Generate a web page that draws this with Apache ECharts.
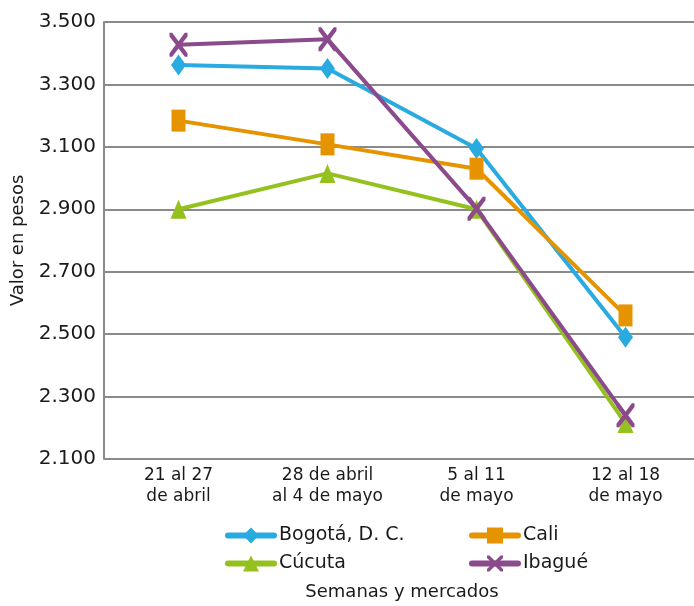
<!DOCTYPE html>
<html><head><meta charset="utf-8">
<script src="https://cdn.jsdelivr.net/npm/echarts@6/dist/echarts.min.js"></script>
<style>html,body{margin:0;padding:0;background:#fff}#c{width:694px;height:606px}</style>
</head><body><div id="c"></div>
<script>
const categories = ["21 al 27\nde abril", "28 de abril\nal 4 de mayo", "5 al 11\nde mayo", "12 al 18\nde mayo"];
const bogota = [3362, 3351, 3095, 2490];
const cali = [3184, 3108, 3030, 2560];
const cucuta = [2900, 3015, 2900, 2214];
const ibague = [3427, 3445, 2902, 2240];
const yTicks = [2100, 2300, 2500, 2700, 2900, 3100, 3300, 3500];

const FONT = '"DejaVu Sans", sans-serif';
const crossPath = 'path://M0,0 L3,0 L10,7 L17,0 L20,0 L20,3 L13,10 L20,17 L20,20 L17,20 L10,13 L3,20 L0,20 L0,17 L7,10 L0,3 Z';
function ser(name, data, color, symbol, size) {
  return {name, type: 'line', data, symbol, symbolSize: size,
    lineStyle: {color, width: 4}, itemStyle: {color}, z: 3};
}
const legendCommon = {orient: 'vertical', top: 521, itemWidth: 46, itemHeight: 20, itemGap: 9,
  lineStyle: {width: 6, cap: 'round'},
  textStyle: {fontSize: 19, color: '#1a1a1a', fontFamily: FONT}};
const chart = echarts.init(document.getElementById('c'), null, {renderer: 'canvas'});
chart.setOption({
  animation: false,
  textStyle: {fontFamily: FONT},
  grid: {left: 104, top: 22, width: 596, bottom: 147, outerBoundsMode: 'none', containLabel: false},
  xAxis: {
    type: 'category', data: categories, boundaryGap: true,
    axisLine: {show: false}, axisTick: {show: false},
    axisLabel: {fontSize: 17, color: '#1a1a1a', lineHeight: 21, margin: 6, fontFamily: FONT},
    name: 'Semanas y mercados', nameLocation: 'middle', nameGap: 124,
    nameTextStyle: {fontSize: 18, color: '#1a1a1a', fontFamily: FONT}
  },
  yAxis: {
    type: 'value', min: 2100, max: 3500, interval: 200,
    axisLine: {show: true, lineStyle: {color: '#8a8a8a', width: 2}},
    axisTick: {show: false},
    splitLine: {show: true, lineStyle: {color: '#8a8a8a', width: 2}},
    axisLabel: {fontSize: 20, color: '#1a1a1a', margin: 8, fontFamily: FONT,
      formatter: v => yTicks.includes(v) ? (v/1000).toFixed(3) : ''},
    name: 'Valor en pesos', nameLocation: 'middle', nameGap: 77, nameRotate: 90,
    nameTextStyle: {fontSize: 18, color: '#1a1a1a', fontFamily: FONT}
  },
  legend: [
    Object.assign({left: 220, data: ['Bogotá, D. C.', 'Cúcuta']}, legendCommon),
    Object.assign({left: 464, data: ['Cali', 'Ibagué']}, legendCommon)
  ],
  series: [
    ser('Bogotá, D. C.', bogota, '#29abe2', 'diamond', [15, 21]),
    ser('Cali', cali, '#e59400', 'rect', [14, 22]),
    ser('Cúcuta', cucuta, '#95c11f', 'triangle', [16, 19]),
    ser('Ibagué', ibague, '#8b4a8c', crossPath, [18, 24])
  ]
});
</script></body></html>
